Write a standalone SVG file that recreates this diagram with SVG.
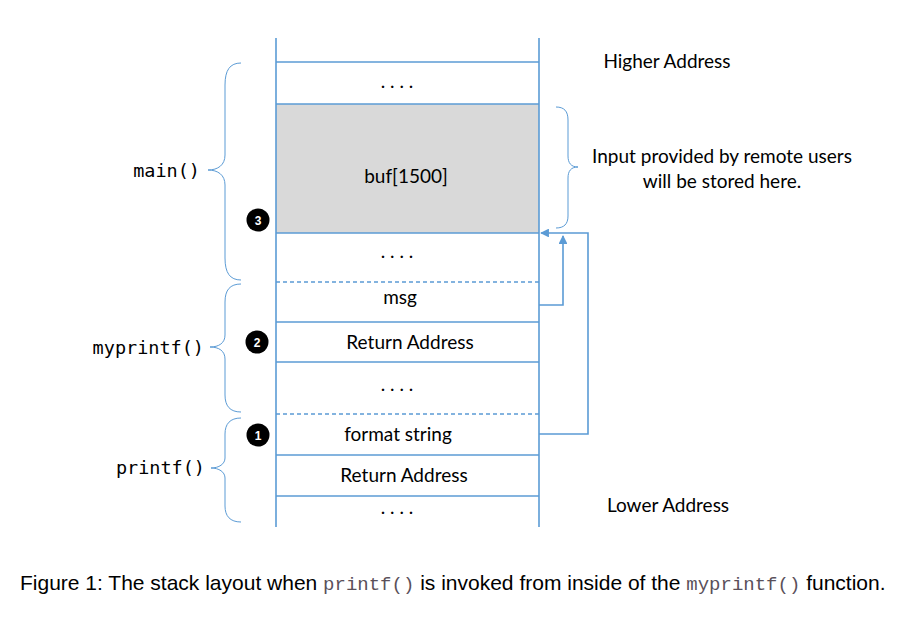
<svg xmlns="http://www.w3.org/2000/svg" width="902" height="617" viewBox="0 0 902 617">
<defs>
<style>
.ln{stroke:#5b9bd5;stroke-width:1.6;fill:none}
.dash{stroke:#5b9bd5;stroke-width:1.6;stroke-dasharray:4 3;fill:none}
.br{stroke:#5b9bd5;stroke-width:1;fill:none}
.t{font-family:Lato,"Open Sans",sans-serif;font-size:19px;fill:#000;text-anchor:middle}
.m{font-family:"DejaVu Sans Mono","Liberation Mono",monospace;font-size:18.5px;fill:#000;text-anchor:end}
.num{font-family:"Liberation Sans",Arial,sans-serif;font-size:12px;font-weight:bold;fill:#fff;text-anchor:middle}
.cap{font-family:"Liberation Sans",Arial,sans-serif;font-size:21px;fill:#000}
.code{font-family:"Liberation Mono","Courier New",monospace;font-size:19px;fill:#5a505a}
</style>
<marker id="ah" viewBox="0 0 10 10" refX="9" refY="5" markerWidth="5.5" markerHeight="5.5" orient="auto" markerUnits="strokeWidth">
<path d="M0,0 L10,5 L0,10 z" fill="#5b9bd5"/>
</marker>
</defs>
<rect width="902" height="617" fill="#fff"/>
<g id="stack">
<rect x="276" y="104" width="263" height="129" fill="#d9d9d9"/>
<line class="ln" x1="276" y1="38" x2="276" y2="527"/>
<line class="ln" x1="539" y1="38" x2="539" y2="527"/>
<line class="ln" x1="276" y1="62" x2="539" y2="62"/>
<line class="ln" x1="276" y1="104" x2="539" y2="104"/>
<line class="ln" x1="276" y1="233" x2="539" y2="233"/>
<line class="dash" x1="276" y1="282" x2="539" y2="282"/>
<line class="ln" x1="276" y1="322" x2="539" y2="322"/>
<line class="ln" x1="276" y1="362" x2="539" y2="362"/>
<line class="dash" x1="276" y1="414" x2="539" y2="414"/>
<line class="ln" x1="276" y1="455" x2="539" y2="455"/>
<line class="ln" x1="276" y1="496" x2="539" y2="496"/>
</g>
<g id="cells">
<text class="t" x="397" y="88">. . . .</text>
<text class="t" x="406" y="183">buf[1500]</text>
<text class="t" x="397" y="258">. . . .</text>
<text class="t" x="400" y="304">msg</text>
<text class="t" x="410" y="349">Return Address</text>
<text class="t" x="397" y="391">. . . .</text>
<text class="t" x="398" y="441">format string</text>
<text class="t" x="404" y="482">Return Address</text>
<text class="t" x="397" y="514">. . . .</text>
</g>
<g id="markers">
<circle cx="258" cy="220" r="11.5" fill="#000"/><text class="num" x="258" y="224.5">3</text>
<circle cx="257" cy="342" r="11.5" fill="#000"/><text class="num" x="257" y="346.5">2</text>
<circle cx="258" cy="435" r="11.5" fill="#000"/><text class="num" x="258" y="439.5">1</text>
</g>
<g id="braces">
<path class="br" d="M241,63 C230,63 225,70 225,85 L225,155 C225,165 218,170 208,170 C218,170 225,175 225,185 L225,258 C225,273 230,280 241,280"/>
<path class="br" d="M241,284 C230,284 225,290 225,302 L225,335 C225,343 219,347 210,347 C219,347 225,351 225,359 L225,395 C225,406 230,412 241,412"/>
<path class="br" d="M241,418 C230,418 225,424 225,434 L225,458 C225,464 219,468 211,468 C219,468 225,472 225,478 L225,506 C225,516 230,522 241,522"/>
<path class="br" d="M556,107 C564,107 568,111 568,120 L568,156 C568,163 571,167 578,167 C571,167 568,171 568,178 L568,216 C568,224 564,228 556,228"/>
</g>
<g id="labels">
<text class="m" x="200" y="177">main()</text>
<text class="m" x="204" y="354">myprintf()</text>
<text class="m" x="205" y="474">printf()</text>
<text class="t" x="667" y="68">Higher Address</text>
<text class="t" x="722" y="163">Input provided by remote users</text>
<text class="t" x="722" y="188">will be stored here.</text>
<text class="t" x="668" y="512">Lower Address</text>
</g>
<g id="connectors">
<path class="ln" d="M539,434 L588,434 L588,233 L541,233" marker-end="url(#ah)" stroke-width="2.2"/>
<path class="ln" d="M539,305 L563,305 L563,236" marker-end="url(#ah)" stroke-width="2"/>
</g>
<text class="cap" x="20" y="590">Figure 1: The stack layout when <tspan class="code">printf()</tspan> is invoked from inside of the <tspan class="code">myprintf()</tspan> function.</text>
</svg>
